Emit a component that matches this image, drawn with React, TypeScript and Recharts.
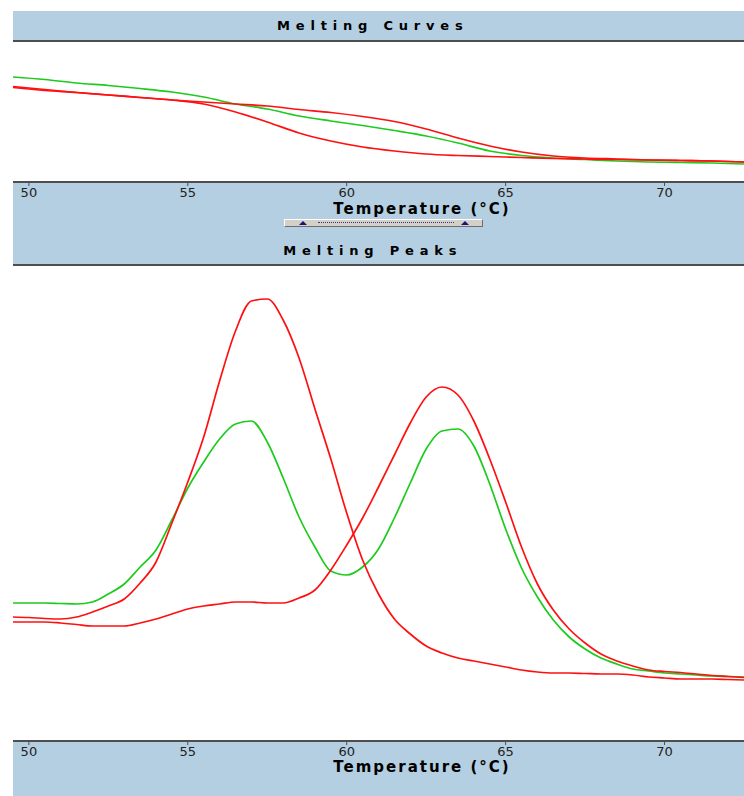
import React from "react";
import { LineChart, Line, XAxis, YAxis } from "recharts";

// Melting Curves (fluorescence), 1 °C steps
const curveTemps = [
  49.5, 50.5, 51.5, 52.5, 53.5, 54.5, 55.5, 56.5, 57.5, 58.5, 59.5, 60.5,
  61.5, 62.5, 63.5, 64.5, 65.5, 66.5, 67.5, 68.5, 69.5, 70.5, 71.5, 72.5,
];
const curveGreen = [
  10.5, 10.25, 9.9, 9.65, 9.35, 9.0, 8.5, 7.8, 7.3, 6.6, 6.1, 5.65,
  5.15, 4.6, 3.9, 3.1, 2.65, 2.4, 2.25, 2.1, 2.0, 1.95, 1.9, 1.8,
];
const curveRedA = [
  9.55, 9.25, 8.95, 8.7, 8.45, 8.2, 8.0, 7.8, 7.6, 7.25, 6.95, 6.55,
  6.05, 5.3, 4.4, 3.6, 3.0, 2.6, 2.4, 2.3, 2.2, 2.15, 2.1, 2.0,
];
const curveRedB = [
  9.45, 9.15, 8.95, 8.7, 8.45, 8.2, 7.8, 7.0, 6.0, 4.9, 4.1, 3.5,
  3.1, 2.8, 2.65, 2.55, 2.45, 2.35, 2.3, 2.25, 2.2, 2.15, 2.1, 2.0,
];

// Melting Peaks (-dF/dT), 0.5 °C steps
const peakTemps = [
  49.5, 50, 50.5, 51, 51.5, 52, 52.5, 53, 53.5, 54, 54.5, 55, 55.5, 56, 56.5,
  57, 57.5, 58, 58.5, 59, 59.5, 60, 60.5, 61, 61.5, 62, 62.5, 63, 63.5, 64,
  64.5, 65, 65.5, 66, 66.5, 67, 67.5, 68, 68.5, 69, 69.5, 70, 70.5, 71, 71.5,
  72, 72.5,
];
const peakGreen = [
  13.8, 13.8, 13.8, 13.75, 13.7, 13.9, 14.7, 15.7, 17.4, 19.1, 22.1, 25.3,
  27.9, 30.2, 31.7, 32.0, 29.9, 26.3, 22.4, 19.4, 17.0, 16.6, 17.4, 19.2,
  22.3, 25.8, 29.2, 31.0, 31.2, 29.5, 25.7, 21.2, 17.3, 14.4, 12.1, 10.4,
  9.2, 8.3, 7.7, 7.2, 7.0, 6.8, 6.7, 6.6, 6.5, 6.45, 6.4,
];
const peakRedA = [
  11.9, 11.9, 11.9, 11.8, 11.65, 11.5, 11.5, 11.5, 11.8, 12.2, 12.7, 13.2,
  13.5, 13.7, 13.9, 13.9, 13.8, 13.8, 14.3, 15.1, 17.1, 19.6, 22.3, 25.4,
  28.6, 31.8, 34.4, 35.4, 34.6, 32.0, 28.2, 23.9, 19.4, 15.7, 13.1, 11.2,
  9.8, 8.7, 8.0, 7.5, 7.1, 6.95, 6.85, 6.7, 6.55, 6.45, 6.35,
];
const peakRedB = [
  12.4, 12.35, 12.25, 12.2, 12.4, 12.9, 13.5, 14.2, 15.8, 17.9, 21.8, 25.9,
  30.4, 36.0, 41.0, 44.0, 44.2, 42.1, 38.3, 33.2, 28.2, 22.8, 18.1, 14.7,
  12.2, 10.7, 9.5, 8.8, 8.3, 8.0, 7.7, 7.4, 7.1, 6.9, 6.8, 6.8,
  6.75, 6.7, 6.7, 6.6, 6.4, 6.3, 6.2, 6.2, 6.2, 6.15, 6.1,
];

const xTicks = [50, 55, 60, 65, 70];

const curveData = curveTemps.map((t, i) => ({
  t, green: curveGreen[i], redA: curveRedA[i], redB: curveRedB[i],
}));
const peakData = peakTemps.map((t, i) => ({
  t, green: peakGreen[i], redA: peakRedA[i], redB: peakRedB[i],
}));

const BLUE = "#b4cfe1";
const DARK = "#4e4e4e";
const GREEN = "#1ccb1c";
const RED = "#ff1010";
const FONT = "'DejaVu Sans', sans-serif";

const abs = (s: React.CSSProperties): React.CSSProperties => ({ position: "absolute", ...s });

function xAxis() {
  return (
    <XAxis
      type="number"
      dataKey="t"
      domain={[49.5, 72.5]}
      ticks={xTicks}
      interval={0}
      allowDataOverflow
      height={24}
      tickSize={4}
      axisLine={{ stroke: DARK, strokeWidth: 2 }}
      tickLine={{ stroke: DARK }}
      tick={{ fill: "#222", fontSize: 13, fontFamily: FONT }}
    />
  );
}

function lines() {
  return [
    <Line key="g" type="monotone" dataKey="green" stroke={GREEN} strokeWidth={1.7} dot={false} isAnimationActive={false} />,
    <Line key="ra" type="monotone" dataKey="redA" stroke={RED} strokeWidth={1.7} dot={false} isAnimationActive={false} />,
    <Line key="rb" type="monotone" dataKey="redB" stroke={RED} strokeWidth={1.7} dot={false} isAnimationActive={false} />,
  ];
}

const headerStyle = (top: number): React.CSSProperties => abs({
  left: 0, top, width: 734, textAlign: "center", fontFamily: FONT, fontWeight: "bold",
  fontSize: 13, lineHeight: "15px", letterSpacing: 5.8, paddingLeft: 5.8, color: "#000",
});

const titleStyle = (top: number): React.CSSProperties => abs({
  left: 320, top, width: 200, textAlign: "center", fontFamily: FONT, fontWeight: "bold",
  fontSize: 15, lineHeight: "16px", letterSpacing: 2, paddingLeft: 2, color: "#000",
});

const tri = (left: number): React.CSSProperties => abs({
  left, top: 221, width: 0, height: 0,
  borderLeft: "4px solid transparent", borderRight: "4px solid transparent",
  borderBottom: "4px solid #14147a",
});

export default function App() {
  return (
    <div style={abs({ left: 0, top: 0, width: 744, height: 796, background: "#fff", overflow: "hidden" })}>
      <div style={abs({ left: 13, top: 11, width: 731, height: 785, background: BLUE })} />

      {/* Melting Curves */}
      <div style={headerStyle(18)}>Melting Curves</div>
      <div style={abs({ left: 13, top: 40, width: 731, height: 2, background: DARK })} />
      <div style={abs({ left: 13, top: 42, width: 731, height: 140, background: "#fff" })} />
      <div style={abs({ left: 13, top: 42 })}>
        <LineChart width={731} height={164} data={curveData} margin={{ top: 0, right: 0, bottom: 0, left: 0 }}>
          {xAxis()}
          <YAxis hide type="number" domain={[0, 14]} allowDataOverflow />
          {lines()}
        </LineChart>
      </div>
      <div style={titleStyle(201)}>Temperature (°C)</div>

      {/* slider */}
      <div style={abs({
        left: 284, top: 219, width: 199, height: 8, background: "#d4d0c8", boxSizing: "border-box",
        borderTop: "1px solid #fff", borderLeft: "1px solid #fff",
        borderBottom: "1px solid #6e6e6e", borderRight: "1px solid #6e6e6e",
      })} />
      <div style={abs({ left: 318, top: 222, width: 136, height: 0, borderTop: "1px dotted #3a3a80" })} />
      <div style={tri(299)} />
      <div style={tri(461)} />

      {/* Melting Peaks */}
      <div style={headerStyle(243)}>Melting Peaks</div>
      <div style={abs({ left: 13, top: 264, width: 731, height: 2, background: DARK })} />
      <div style={abs({ left: 13, top: 266, width: 731, height: 475, background: "#fff" })} />
      <div style={abs({ left: 13, top: 266 })}>
        <LineChart width={731} height={499} data={peakData} margin={{ top: 0, right: 0, bottom: 0, left: 0 }}>
          {xAxis()}
          <YAxis hide type="number" domain={[0, 47.5]} allowDataOverflow />
          {lines()}
        </LineChart>
      </div>
      <div style={titleStyle(759)}>Temperature (°C)</div>
    </div>
  );
}
